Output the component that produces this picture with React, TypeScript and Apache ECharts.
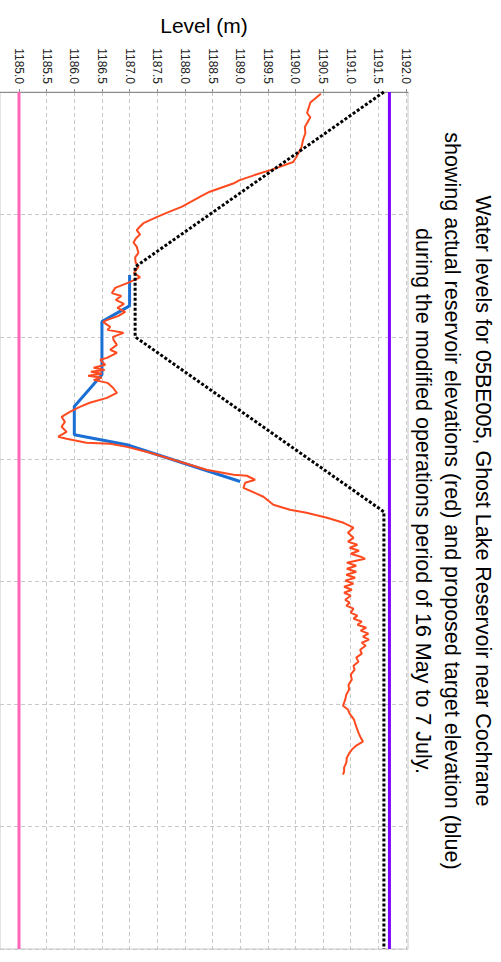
import React, { useEffect, useRef } from "react";
import * as echarts from "echarts";

// Level axis ticks (m)
const levelTicks = [1185.0, 1185.5, 1186.0, 1186.5, 1187.0, 1187.5, 1188.0, 1188.5, 1189.0, 1189.5, 1190.0, 1190.5, 1191.0, 1191.5, 1192.0];

// Time in days from start of plot, level in m
const actualDays = [
  0.1, 0.6, 1.2, 1.45, 2.0, 2.35, 2.7, 3.15, 3.7, 4.0, 4.45, 4.75, 5.05, 5.2, 5.7, 6.0, 6.55, 6.9, 7.15, 7.5,
  7.75, 7.9, 8.15, 8.35, 8.6, 8.85, 9.2, 9.45, 9.75, 10.0, 10.35, 10.6, 10.9, 11.2, 11.5,
  11.66, 11.89, 12.11, 12.34, 12.57, 12.8, 13.03, 13.14, 13.43, 13.6, 13.77, 14.0, 14.17, 14.46, 14.74, 14.91,
  15.2, 15.31, 15.6, 15.77, 15.89, 16.0, 16.11, 16.23, 16.34, 16.46, 16.63, 16.91, 17.2, 17.49, 17.77, 18.0,
  18.29, 18.57, 18.86, 19.14, 19.43, 19.71, 19.83, 20.06, 20.11, 20.29, 20.63, 21.14, 21.6, 21.89, 21.94, 22.17,
  22.34, 22.63, 23.14, 23.6, 23.89, 24.06, 24.34, 24.63, 24.91, 25.2, 25.49, 25.71, 25.89, 26.06, 26.23, 26.4,
  26.57, 26.69, 26.91, 27.09, 27.26, 27.43, 27.6, 27.77, 27.94, 28.11, 28.29, 28.46, 28.63, 28.8, 29.03, 29.2,
  29.37, 29.54, 29.77, 29.94, 30.11, 30.29, 30.46, 30.63, 30.8, 30.97, 31.14, 31.31, 31.49, 31.66, 31.89, 32.11,
  32.34, 32.57, 32.8, 33.03, 33.31, 33.6, 33.89, 34.17, 34.46, 34.74, 35.09, 35.31, 35.54, 35.89, 36.29, 36.63,
  36.91, 37.14, 37.37, 37.6, 37.77, 38.06, 38.34, 38.63, 38.86, 39.03,
];
const actualLevels = [
  1190.46, 1190.27, 1190.21, 1190.27, 1190.17, 1190.18, 1190.14, 1190.11, 1190.02, 1189.96, 1189.56, 1189.26, 1188.98, 1188.9, 1188.45, 1188.27, 1187.95, 1187.68, 1187.49, 1187.25,
  1187.17, 1187.13, 1187.19, 1187.12, 1187.07, 1187.13, 1187.16, 1187.10, 1187.11, 1187.16, 1187.08, 1187.19, 1186.98, 1186.74, 1186.68,
  1186.85, 1186.75, 1186.9, 1186.78, 1186.92, 1186.8, 1186.6, 1186.52, 1186.65, 1186.6, 1186.89, 1186.7, 1186.71, 1186.77, 1186.65, 1186.77,
  1186.59, 1186.47, 1186.56, 1186.35, 1186.55, 1186.3, 1186.5, 1186.25, 1186.5, 1186.35, 1186.6, 1186.7, 1186.77, 1186.59, 1186.28, 1186.1,
  1185.92, 1185.77, 1185.83, 1185.77, 1185.86, 1185.71, 1185.86, 1186.22, 1186.65, 1186.95, 1187.37, 1187.91, 1188.39, 1188.88, 1189.12, 1189.27,
  1189.09, 1189.06, 1189.42, 1189.6, 1189.9, 1190.2, 1190.57, 1190.87, 1191.05, 1190.95, 1191.05, 1190.95, 1191.12, 1190.98, 1191.15, 1191.0,
  1191.18, 1191.26, 1190.93, 1191.1, 1190.93, 1191.1, 1190.92, 1191.08, 1190.9, 1191.05, 1190.88, 1191.02, 1190.88, 1191.0, 1190.9, 1190.98,
  1190.92, 1191.05, 1191.0, 1191.12, 1191.05, 1191.2, 1191.12, 1191.28, 1191.18, 1191.32, 1191.22, 1191.33, 1191.2, 1191.27, 1191.17, 1191.2,
  1191.1, 1191.14, 1191.05, 1191.07, 1191.0, 1191.02, 1190.96, 1190.97, 1190.92, 1190.9, 1190.86, 1190.95, 1190.98, 1191.06, 1191.1, 1191.14,
  1191.18, 1191.22, 1191.1, 1191.02, 1190.98, 1190.93, 1190.92, 1190.88, 1190.88, 1190.86,
];

const targetDays = [10.46, 12.23, 13.13, 16.17, 17.98, 19.6, 20.17, 22.27];
const targetLevels = [1187.0, 1187.0, 1186.5, 1186.5, 1186.0, 1186.0, 1186.95, 1189.0];

const ruleDays = [0, 10, 14, 24, 49];
const ruleLevels = [1191.6, 1187.1, 1187.1, 1191.6, 1191.6];

const lowLimit = 1185.0;
const highLimit = 1191.7;
const spanDays = [0, 49];

const titleLines = [
  "Water levels for 05BE005, Ghost Lake Reservoir near Cochrane",
  "showing actual reservoir elevations (red) and proposed target elevation (blue)",
  "during the modified operations period of 16 May to 7 July.",
];
const axisName = "Level (m)";

const FONT = "'Liberation Sans', Arial, sans-serif";

export default function App() {
  const ref = useRef<HTMLDivElement>(null);
  useEffect(() => {
    if (!ref.current) return;
    const chart = echarts.init(ref.current, undefined, { renderer: "svg" });
    const zip = (a: number[], b: number[]) => a.map((d, i) => [b[i], d]);
    const titleX = [483, 452, 423];
    chart.setOption({
      animation: false,
      backgroundColor: "#ffffff",
      grid: {
        left: 0,
        top: 92,
        width: 408,
        height: 857,
        show: true,
        borderColor: "#c8c8c8",
        borderWidth: 1,
        backgroundColor: "transparent",
      },
      xAxis: {
        type: "value",
        position: "top",
        min: 1184.656,
        max: 1192.036,
        axisLine: { show: true, lineStyle: { color: "#8c8c8c", width: 1 } },
        axisTick: { show: true, customValues: levelTicks, length: 3, lineStyle: { color: "#8c8c8c" } },
        axisLabel: {
          customValues: levelTicks,
          rotate: -90,
          formatter: (v: number) => v.toFixed(1),
          color: "#222",
          fontSize: 12,
          fontFamily: FONT,
          margin: 8,
        },
        splitLine: { show: true, lineStyle: { color: "#c8c8c8", type: [4, 3], width: 1 } },
      },
      yAxis: {
        type: "value",
        inverse: true,
        min: spanDays[0],
        max: spanDays[1],
        interval: 7,
        axisLine: { show: false },
        axisTick: { show: false },
        axisLabel: { show: false },
        splitLine: { show: true, lineStyle: { color: "#c8c8c8", type: [4, 3], width: 1 } },
      },
      graphic: [
        {
          type: "text",
          x: 204,
          y: 25,
          style: {
            text: axisName,
            font: `21px ${FONT}`,
            fill: "#000",
            textAlign: "center",
            textVerticalAlign: "middle",
          },
        },
        ...titleLines.map((t, i) => ({
          type: "text",
          x: titleX[i],
          y: 501,
          rotation: -Math.PI / 2,
          style: {
            text: t,
            font: `21.5px ${FONT}`,
            fill: "#000",
            textAlign: "center",
            textVerticalAlign: "middle",
          },
        })),
      ],
      series: [
        {
          type: "line",
          data: [[lowLimit, spanDays[0]], [lowLimit, spanDays[1]]],
          showSymbol: false,
          lineStyle: { color: "#ff66b8", width: 3 },
          z: 2,
        },
        {
          type: "line",
          data: [[highLimit, spanDays[0]], [highLimit, spanDays[1]]],
          showSymbol: false,
          lineStyle: { color: "#8000ff", width: 3 },
          z: 2,
        },
        {
          type: "line",
          data: zip(targetDays, targetLevels),
          showSymbol: false,
          lineStyle: { color: "#1a6fd4", width: 3 },
          z: 3,
        },
        {
          type: "line",
          data: zip(actualDays, actualLevels),
          showSymbol: false,
          lineStyle: { color: "#ff4a1f", width: 2 },
          z: 4,
        },
        {
          type: "line",
          data: zip(ruleDays, ruleLevels),
          showSymbol: false,
          lineStyle: { color: "#000000", width: 3, type: [3, 2] },
          z: 5,
        },
      ],
    });
    return () => chart.dispose();
  }, []);
  return <div ref={ref} style={{ position: "absolute", left: 0, top: 0, width: 501, height: 962 }} />;
}
